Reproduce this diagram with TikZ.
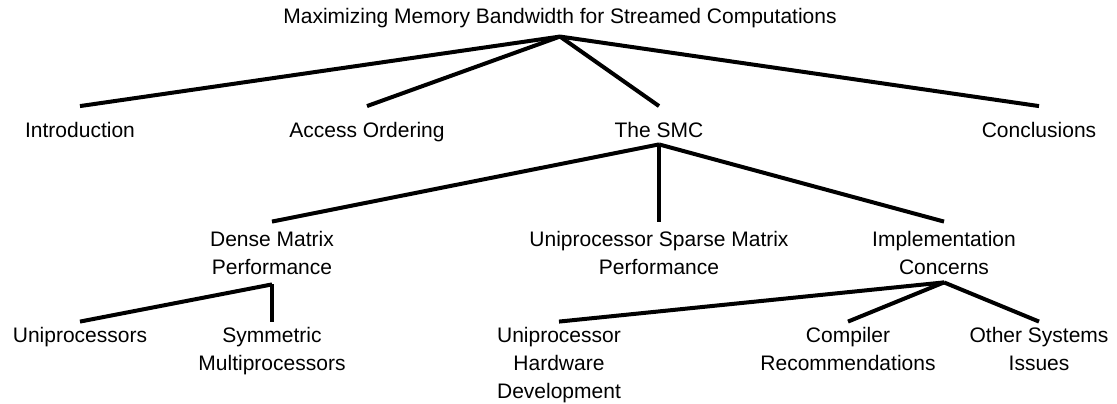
\documentclass[tikz,border=0pt]{standalone}
\usepackage{fontspec}
\setmainfont{Liberation Sans}
\begin{document}
\begin{tikzpicture}[x=1pt,y=-1pt,
  topic/.style={anchor=base, inner sep=0pt, align=center,
    font=\fontsize{21pt}{28pt}\selectfont},
  branch/.style={line width=4pt, draw=black}]
  \useasboundingbox (0,0) rectangle (1117,404);

  % root (nodes are placed at the baseline of their last line)
  \node[topic] (root) at (560,24) {Maximizing Memory Bandwidth for Streamed Computations};

  % chapters
  \node[topic] (intro)  at (80,137)   {Introduction};
  \node[topic] (access) at (367,137)  {Access Ordering};
  \node[topic] (smc)    at (659,137)  {The SMC};
  \node[topic] (concl)  at (1039,137) {Conclusions};

  % sections of the SMC chapter
  \node[topic] (dense)  at (272,274) {Dense Matrix\\Performance};
  \node[topic] (sparse) at (659,274) {Uniprocessor Sparse Matrix\\Performance};
  \node[topic] (impl)   at (944,274) {Implementation\\Concerns};

  % subsections
  \node[topic] (unip)  at (80,342)   {Uniprocessors};
  \node[topic] (symm)  at (272,370)  {Symmetric\\Multiprocessors};
  \node[topic] (uhd)   at (559,398)  {Uniprocessor\\Hardware\\Development};
  \node[topic] (comp)  at (848,370)  {Compiler\\Recommendations};
  \node[topic] (other) at (1039,370) {Other Systems\\Issues};

  % tree branches
  \foreach \c in {intro,access,smc,concl}
    \draw[branch] ([yshift=-8pt]root.south) -- ([yshift=15.5pt]\c.north);
  \foreach \c in {dense,sparse,impl}
    \draw[branch] ([yshift=-7pt]smc.south) -- ([yshift=9pt]\c.north);
  \foreach \c in {unip,symm}
    \draw[branch] ([yshift=-10pt]dense.south) -- ([yshift=5pt]\c.north);
  \foreach \c in {uhd,comp,other}
    \draw[branch] ([yshift=-8pt]impl.south) -- ([yshift=5pt]\c.north);
\end{tikzpicture}
\end{document}
